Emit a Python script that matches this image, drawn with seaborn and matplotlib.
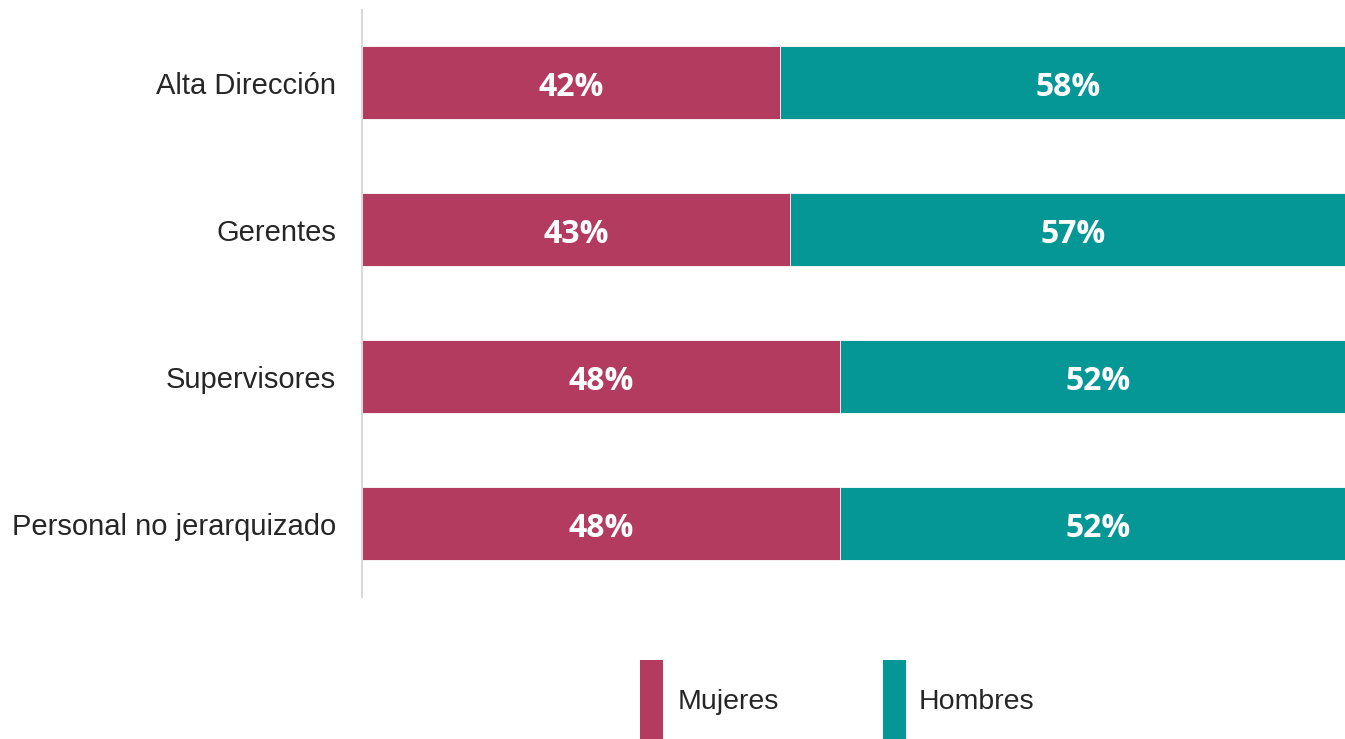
import matplotlib
matplotlib.use("Agg")
import matplotlib.pyplot as plt
import seaborn as sns
import pandas as pd
from matplotlib.patches import Rectangle

categories = ["Alta Dirección", "Gerentes", "Supervisores", "Personal no jerarquizado"]
mujeres = [42, 43, 48, 48]
hombres = [58, 57, 52, 52]
series_names = ["Mujeres", "Hombres"]
colors = ["#B33B60", "#059796"]

sns.set_style("white")
plt.rcParams['font.family'] = ['Liberation Sans', 'DejaVu Sans']

df = pd.DataFrame({"cat": categories, "Mujeres": mujeres, "Hombres": hombres})
df["Total"] = df["Mujeres"] + df["Hombres"]

fig = plt.figure(figsize=(13.45, 7.39), dpi=100)
ax = fig.add_axes([362/1345, 1-597/739, 1-362/1345, (597-10)/739])

sns.barplot(data=df, y="cat", x="Total", orient="h", color=colors[1], width=0.5,
            edgecolor="white", linewidth=0.6, saturation=1, ax=ax)
sns.barplot(data=df, y="cat", x="Mujeres", orient="h", color=colors[0], width=0.5,
            edgecolor="white", linewidth=0.6, saturation=1, ax=ax)

for i, (m, h) in enumerate(zip(mujeres, hombres)):
    ax.text(m/2, i + 0.092, f"{m}%", ha="center", va="baseline", color="white",
            fontsize=23, fontweight="bold", family=["Open Sans", "DejaVu Sans"])
    ax.text(m + h/2, i + 0.092, f"{h}%", ha="center", va="baseline", color="white",
            fontsize=23, fontweight="bold", family=["Open Sans", "DejaVu Sans"])

ax.set_xlim(0, 98.8)
ax.set_ylim(3.5, -0.495)
ax.set_xlabel("")
ax.set_ylabel("")
ax.set_xticks([])
ax.tick_params(axis="y", length=0, pad=18.7, labelsize=21, labelcolor="#262626")
for s in ["top", "right", "bottom"]:
    ax.spines[s].set_visible(False)
ax.spines["left"].set_color("#D9D9D9")
ax.spines["left"].set_linewidth(1.5)

# legend
leg_items = [(640, 678), (883, 919)]
for (px, tx), name, c in zip(leg_items, series_names, colors):
    fig.add_artist(Rectangle((px/1345, 0), 23/1345, 79/739, transform=fig.transFigure,
                             facecolor=c, edgecolor="none"))
    fig.text(tx/1345, 1-702/739, name, ha="left", va="center", fontsize=20.5, color="#262626")

fig.savefig("out.png", dpi=100)
